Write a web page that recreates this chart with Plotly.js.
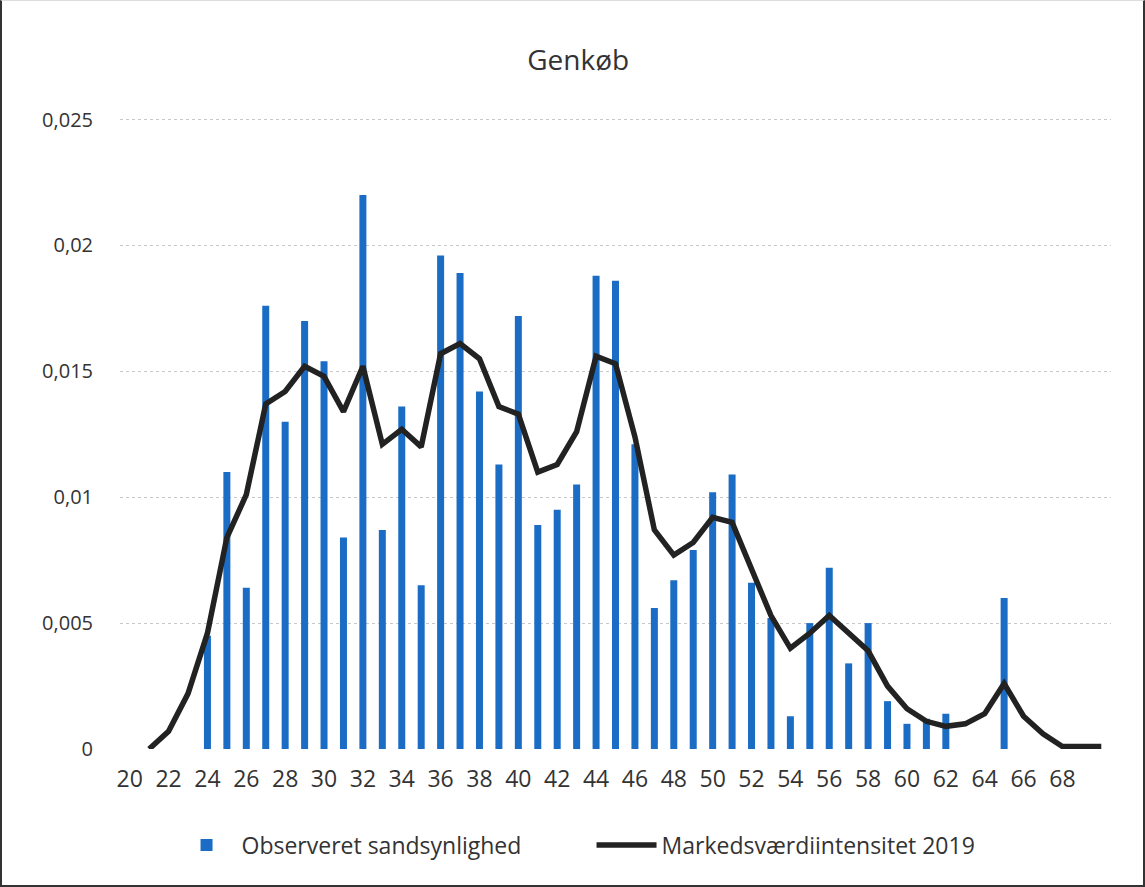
<!DOCTYPE html>
<html>
<head>
<meta charset="utf-8">
<script src="https://cdn.plot.ly/plotly-3.0.1.min.js"></script>
<style>
  html, body { margin: 0; padding: 0; background: #fff; }
  #frame { position: absolute; left: 0; top: 0; width: 1145px; height: 887px; box-sizing: border-box;
           border-left: 2px solid #333; border-right: 2px solid #333; border-bottom: 2px solid #333; border-top: 1px solid #ddd; }
  #chart { position: absolute; left: 0; top: 0; width: 1145px; height: 887px; }
</style>
</head>
<body>
<div id="chart"></div>
<div id="frame"></div>
<script>
// Observed probability (bars), ages 24..65
const barAges = [24,25,26,27,28,29,30,31,32,33,34,35,36,37,38,39,40,41,42,43,44,45,46,47,48,49,50,51,52,53,54,55,56,57,58,59,60,61,62,65];
const barValues = [0.0045,0.0110,0.0064,0.0176,0.0130,0.0170,0.0154,0.0084,0.0220,0.0087,0.0136,0.0065,0.0196,0.0189,0.0142,0.0113,0.0172,0.0089,0.0095,0.0105,0.0188,0.0186,0.0121,0.0056,0.0067,0.0079,0.0102,0.0109,0.0066,0.0052,0.0013,0.0050,0.0072,0.0034,0.0050,0.0019,0.0010,0.0012,0.0014,0.0060];

// Market value intensity 2019 (line), ages 21..70
const lineAges = [21,22,23,24,25,26,27,28,29,30,31,32,33,34,35,36,37,38,39,40,41,42,43,44,45,46,47,48,49,50,51,52,53,54,55,56,57,58,59,60,61,62,63,64,65,66,67,68,69,70];
const lineValues = [0.0000,0.0007,0.0022,0.0046,0.0084,0.0101,0.0137,0.0142,0.0152,0.0148,0.0134,0.0152,0.0121,0.0127,0.0120,0.0157,0.0161,0.0155,0.0136,0.0133,0.0110,0.0113,0.0126,0.0156,0.0153,0.0124,0.0087,0.0077,0.0082,0.0092,0.0090,0.0072,0.0053,0.0040,0.0046,0.0053,0.0046,0.0039,0.0025,0.0016,0.0011,0.0009,0.0010,0.0014,0.0026,0.0013,0.0006,0.0001,0.0001,0.0001];

const xTicks = [20,22,24,26,28,30,32,34,36,38,40,42,44,46,48,50,52,54,56,58,60,62,64,66,68];
const yTicks = [0,0.005,0.01,0.015,0.02,0.025];
const yTickText = ['0','0,005','0,01','0,015','0,02','0,025'];

const FONT = 'Open Sans, Noto Sans, sans-serif';

const traces = [
  {
    type: 'bar', x: barAges, y: barValues, name: 'Observeret sandsynlighed',
    width: 0.36, marker: { color: '#1a6cc4' }, hoverinfo: 'x+y'
  },
  {
    type: 'scatter', mode: 'lines', x: lineAges, y: lineValues, name: 'Markedsværdiintensitet 2019',
    line: { color: '#222222', width: 5.5 }
  }
];

const layout = {
  width: 1145, height: 887,
  paper_bgcolor: 'rgba(0,0,0,0)', plot_bgcolor: '#ffffff',
  margin: { l: 120, r: 34, t: 117, b: 138 },
  font: { family: FONT, color: '#333333' },
  title: { text: 'Genkøb', x: 0.505, xanchor: 'center', y: 0.932, yanchor: 'middle',
           font: { family: FONT, size: 28, color: '#333333' } },
  xaxis: {
    range: [19.5, 70.5], tickmode: 'array', tickvals: xTicks, ticktext: xTicks.map(String),
    showgrid: false, zeroline: false, showline: false, ticks: '',
    tickfont: { family: FONT, size: 23, color: '#333333' }, ticklabelstandoff: 14
  },
  yaxis: {
    range: [0, 0.0251], tickmode: 'array', tickvals: yTicks, ticktext: yTickText,
    showgrid: true, gridcolor: '#c8c8c8', griddash: 'dot', gridwidth: 1,
    zeroline: false, showline: false, ticks: '',
    tickfont: { family: FONT, size: 20, color: '#333333' }, ticklabelstandoff: 26
  },
  showlegend: true,
  legend: {
    orientation: 'h', x: 0.052, xanchor: 'left', y: -0.152, yanchor: 'middle',
    font: { family: FONT, size: 23, color: '#333333' },
    itemwidth: 60, entrywidth: 345, entrywidthmode: 'pixels', traceorder: 'normal'
  },
  bargap: 0.6
};

Plotly.newPlot('chart', traces, layout, { displayModeBar: false, staticPlot: true });
</script>
</body>
</html>
